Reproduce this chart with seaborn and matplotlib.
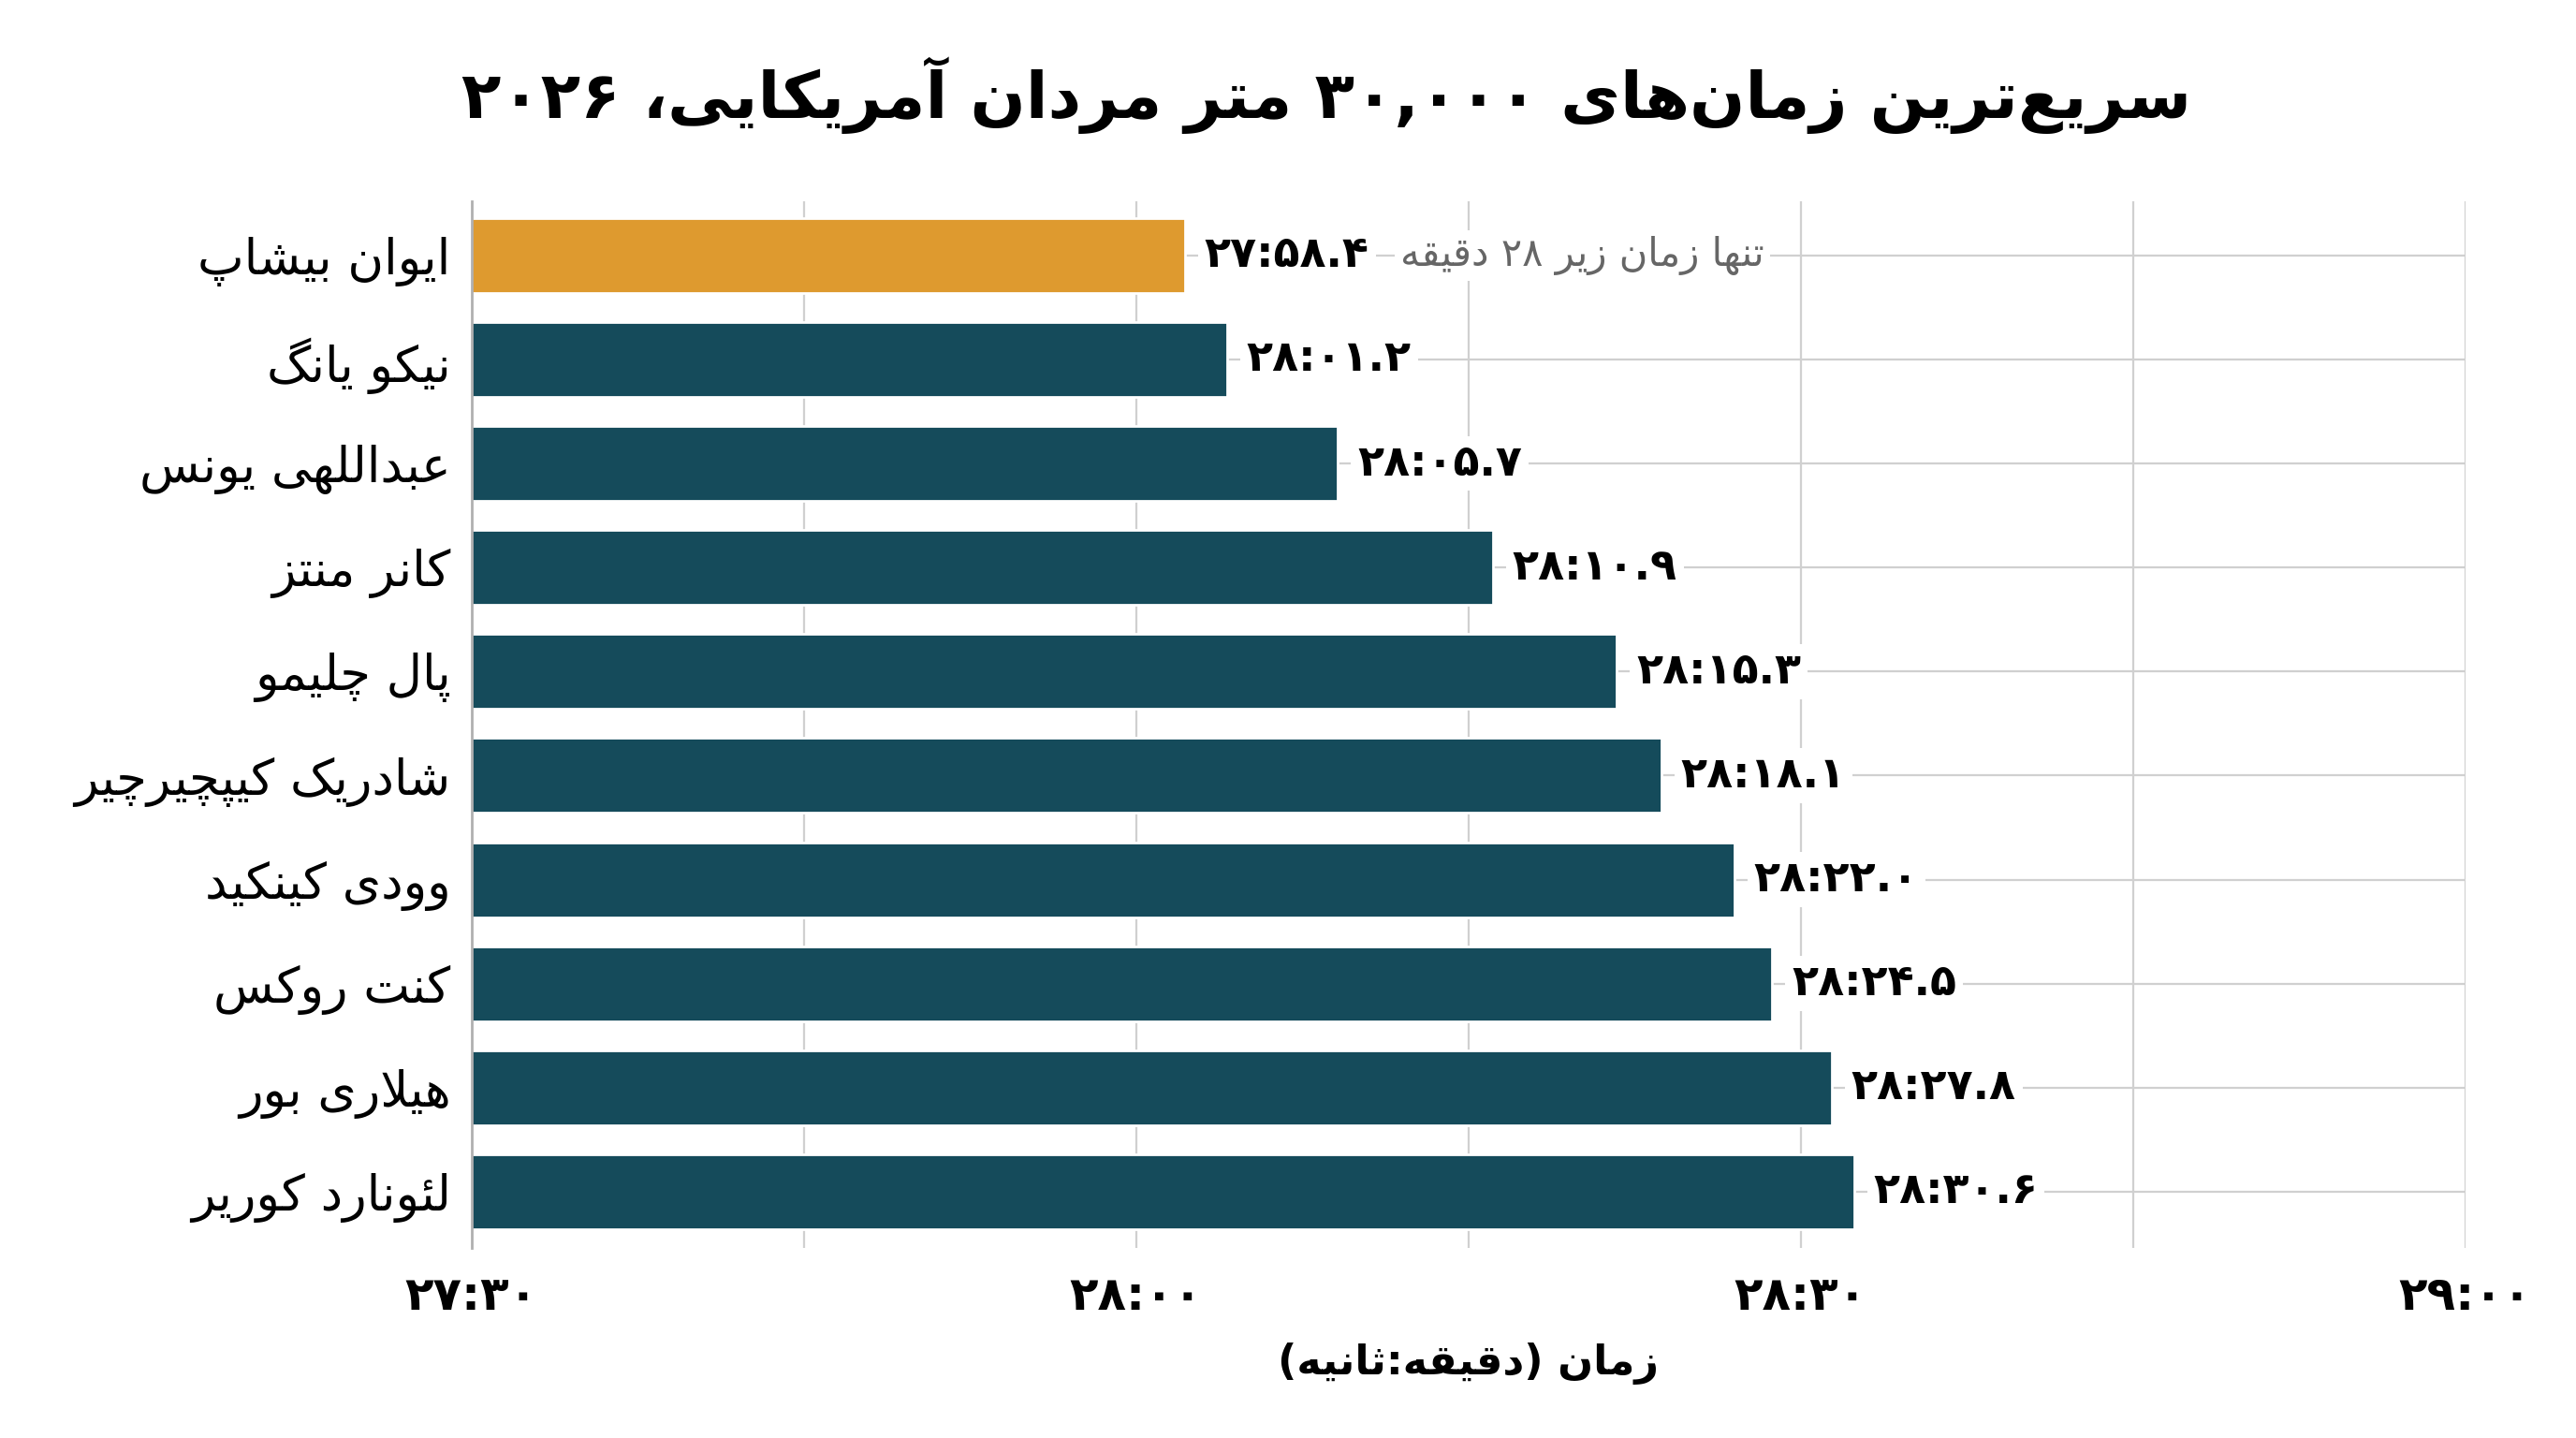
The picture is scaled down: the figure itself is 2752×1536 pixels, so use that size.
import re
import matplotlib
matplotlib.use("Agg")
import matplotlib.pyplot as plt
from matplotlib.ticker import FixedLocator
import seaborn as sns
import pandas as pd

# ---------------- data ----------------
names = ["ایوان بیشاپ", "نیکو یانگ", "عبداللهی یونس", "کانر منتز", "پال چلیمو",
         "شادریک کیپچیرچیر", "وودی کینکید", "کنت روکس", "هیلاری بور", "لئونارد کوریر"]
# bar lengths as drawn in the picture, in seconds (27:30 = 1650 s)
bar_seconds = [1682.2, 1684.1, 1689.1, 1696.1, 1701.7, 1703.7, 1707.0, 1708.7, 1711.4, 1712.4]
time_labels = ["۲۷:۵۸.۴", "۲۸:۰۱.۲", "۲۸:۰۵.۷", "۲۸:۱۰.۹", "۲۸:۱۵.۳",
               "۲۸:۱۸.۱", "۲۸:۲۲.۰", "۲۸:۲۴.۵", "۲۸:۲۷.۸", "۲۸:۳۰.۶"]
groups = ["fast", "other", "other", "other", "other", "other", "other", "other", "other", "other"]
tick_values = [1650, 1680, 1710, 1740]
tick_labels = ["۲۷:۳۰", "۲۸:۰۰", "۲۸:۳۰", "۲۹:۰۰"]
minor_values = [1665, 1695, 1725]
title = "سریع\u200cترین زمان\u200cهای ۳۰,۰۰۰ متر مردان آمریکایی، ۲۰۲۶"
xlabel = "زمان (دقیقه:ثانیه)"
note = "تنها زمان زیر ۲۸ دقیقه"

# ---------------- minimal Persian shaping + bidi ----------------
FORMS = {
    '\u0627': ('\uFE8D', '\uFE8E', None, None),
    '\u0622': ('\uFE81', '\uFE82', None, None),
    '\u062F': ('\uFEA9', '\uFEAA', None, None),
    '\u0630': ('\uFEAB', '\uFEAC', None, None),
    '\u0631': ('\uFEAD', '\uFEAE', None, None),
    '\u0632': ('\uFEAF', '\uFEB0', None, None),
    '\u0698': ('\uFB8A', '\uFB8B', None, None),
    '\u0648': ('\uFEED', '\uFEEE', None, None),
    '\u0628': ('\uFE8F', '\uFE90', '\uFE91', '\uFE92'),
    '\u067E': ('\uFB56', '\uFB57', '\uFB58', '\uFB59'),
    '\u062A': ('\uFE95', '\uFE96', '\uFE97', '\uFE98'),
    '\u062B': ('\uFE99', '\uFE9A', '\uFE9B', '\uFE9C'),
    '\u062C': ('\uFE9D', '\uFE9E', '\uFE9F', '\uFEA0'),
    '\u0686': ('\uFB7A', '\uFB7B', '\uFB7C', '\uFB7D'),
    '\u062D': ('\uFEA1', '\uFEA2', '\uFEA3', '\uFEA4'),
    '\u062E': ('\uFEA5', '\uFEA6', '\uFEA7', '\uFEA8'),
    '\u0633': ('\uFEB1', '\uFEB2', '\uFEB3', '\uFEB4'),
    '\u0634': ('\uFEB5', '\uFEB6', '\uFEB7', '\uFEB8'),
    '\u0639': ('\uFEC9', '\uFECA', '\uFECB', '\uFECC'),
    '\u063A': ('\uFECD', '\uFECE', '\uFECF', '\uFED0'),
    '\u0641': ('\uFED1', '\uFED2', '\uFED3', '\uFED4'),
    '\u0642': ('\uFED5', '\uFED6', '\uFED7', '\uFED8'),
    '\u06A9': ('\uFB8E', '\uFB8F', '\uFB90', '\uFB91'),
    '\u06AF': ('\uFB92', '\uFB93', '\uFB94', '\uFB95'),
    '\u0644': ('\uFEDD', '\uFEDE', '\uFEDF', '\uFEE0'),
    '\u0645': ('\uFEE1', '\uFEE2', '\uFEE3', '\uFEE4'),
    '\u0646': ('\uFEE5', '\uFEE6', '\uFEE7', '\uFEE8'),
    '\u0647': ('\uFEE9', '\uFEEA', '\uFEEB', '\uFEEC'),
    '\u0626': ('\uFE89', '\uFE8A', '\uFE8B', '\uFE8C'),
    '\u06CC': ('\uFBFC', '\uFBFD', '\uFBFE', '\uFBFF'),
}
LAM_ALEF = {'\u0627': ('\uFEFB', '\uFEFC'), '\u0622': ('\uFEF5', '\uFEF6')}


def _dual(c):
    return c in FORMS and FORMS[c][2] is not None


def shape(text):
    text = text.replace('\u064A', '\u06CC').replace('\u0643', '\u06A9')
    ch = list(text)
    out = []
    i = 0
    while i < len(ch):
        c = ch[i]
        if c not in FORMS:
            if c != '\u200c':
                out.append(c)
            i += 1
            continue
        prev = ch[i - 1] if i > 0 else None
        cp = prev is not None and _dual(prev)
        if c == '\u0644' and i + 1 < len(ch) and ch[i + 1] in LAM_ALEF:
            lig = LAM_ALEF[ch[i + 1]]
            out.append(lig[1] if cp else lig[0])
            i += 2
            continue
        nxt = ch[i + 1] if i + 1 < len(ch) else None
        cn = _dual(c) and nxt is not None and nxt in FORMS
        f = FORMS[c]
        if cp and cn:
            out.append(f[3])
        elif cp:
            out.append(f[1])
        elif cn:
            out.append(f[2])
        else:
            out.append(f[0])
        i += 1
    return ''.join(out)


NUM = re.compile(r'[0-9\u06F0-\u06F9]+(?:[.,:\u066B\u066C][0-9\u06F0-\u06F9]+)*')
MIRROR = {'(': ')', ')': '('}


def fa(text):
    s = shape(text)
    parts, pos = [], 0
    for m in NUM.finditer(s):
        if m.start() > pos:
            parts.append(('r', s[pos:m.start()]))
        parts.append(('n', m.group()))
        pos = m.end()
    if pos < len(s):
        parts.append(('r', s[pos:]))
    out = ''
    for kind, seg in reversed(parts):
        if kind == 'n':
            out += seg
        else:
            out += ''.join(MIRROR.get(c, c) for c in reversed(seg))
    return out


# ---------------- plot ----------------
sns.set_style("white")
plt.rcParams['font.family'] = ['DejaVu Sans']
plt.rcParams['text.color'] = 'black'
plt.rcParams['xtick.color'] = 'black'
plt.rcParams['ytick.color'] = 'black'
plt.rcParams['axes.labelcolor'] = 'black'

ORANGE = "#DE9A2F"
TEAL = "#154B5B"

df = pd.DataFrame({"name": [fa(n) for n in names], "sec": bar_seconds, "group": groups})

fig = plt.figure(figsize=(13.76, 7.68), dpi=200)
ax = fig.add_axes([0.1831, 0.1322, 0.9571 - 0.1831, 0.86 - 0.1322])

sns.barplot(data=df, x="sec", y="name", hue="group", palette={"fast": ORANGE, "other": TEAL},
            orient="h", width=0.72, dodge=False, legend=False, saturation=1, ax=ax, zorder=2)

ax.set_xlim(tick_values[0], tick_values[-1])
ax.set_ylim(len(names) - 1 + 0.54, -0.52)

ax.xaxis.set_major_locator(FixedLocator(tick_values))
ax.xaxis.set_minor_locator(FixedLocator(minor_values))
ax.set_xticklabels(tick_labels, fontsize=18, fontweight="bold", color="black")
ax.tick_params(axis="x", which="both", length=0, pad=10)
ax.tick_params(axis="y", length=0, pad=8, labelsize=19, labelcolor="black")
ax.grid(True, axis="x", which="both", color="#D0D0D0", linewidth=0.8, zorder=0)
ax.grid(True, axis="y", which="major", color="#D0D0D0", linewidth=0.8, zorder=0)
ax.set_axisbelow(True)

for side in ["top", "right", "bottom"]:
    ax.spines[side].set_visible(False)
ax.spines["left"].set_color("#B0B0B0")
ax.spines["left"].set_linewidth(1.0)

ax.set_ylabel("")
ax.set_xlabel(fa(xlabel), fontsize=16, fontweight="bold", labelpad=9, color="black")

label_artists = []
for i, (v, lab) in enumerate(zip(bar_seconds, time_labels)):
    t = ax.annotate(lab, xy=(v, i), xytext=(7.5, 0), textcoords="offset points",
                    ha="left", va="center", fontsize=16.5, fontweight="bold", color="black",
                    bbox=dict(boxstyle="square,pad=0.15", fc="white", ec="none"), zorder=4)
    label_artists.append(t)

ax.annotate(fa(note), xy=(1, 0.5), xycoords=label_artists[0], xytext=(12, 0),
            textcoords="offset points", ha="left", va="center", fontsize=15, color="#666666",
            bbox=dict(boxstyle="square,pad=0.15", fc="white", ec="none"), zorder=4)

fig.text(0.515, 0.934, fa(title), ha="center", va="center", fontsize=25, fontweight="bold",
         color="black")

fig.savefig("out.png", dpi=200, facecolor="white")
